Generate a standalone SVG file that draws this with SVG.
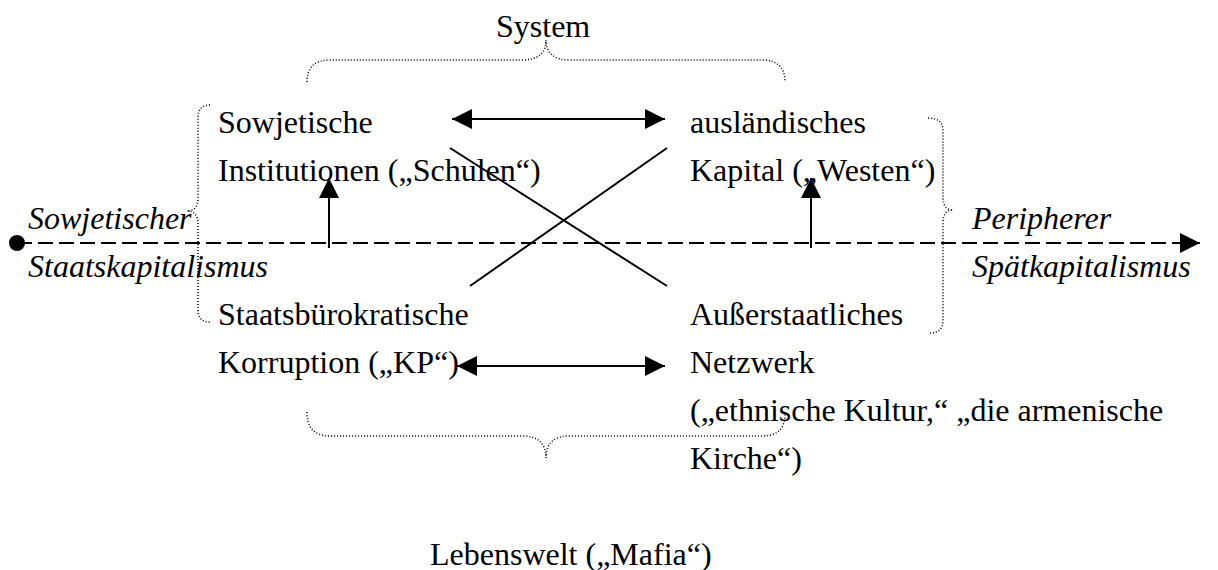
<svg xmlns="http://www.w3.org/2000/svg" width="1218" height="570" viewBox="0 0 1218 570">
<defs>
<marker id="ah" markerUnits="userSpaceOnUse" markerWidth="20" markerHeight="20" refX="20" refY="10" orient="auto-start-reverse" viewBox="0 0 20 20">
<path d="M0,0 L20,10 L0,20 Z" fill="#000"/>
</marker>
<style>
text{font-family:"Liberation Serif","Times New Roman",serif;font-size:32px;fill:#000}
.it{font-style:italic}
.conn{stroke:#000;stroke-width:2;fill:none}
.dot{stroke:#000;stroke-width:1.5;fill:none;stroke-dasharray:1 2}
.axis{stroke:#000;stroke-width:2;fill:none;stroke-dasharray:15 6}
</style>
</defs>
<rect width="1218" height="570" fill="#fff"/>
<g id="connectors">
<line class="axis" x1="17" y1="243" x2="1200" y2="243" marker-end="url(#ah)"/>
<line class="conn" x1="452" y1="119" x2="665" y2="119" marker-start="url(#ah)" marker-end="url(#ah)"/>
<line class="conn" x1="457" y1="366" x2="665" y2="366" marker-start="url(#ah)" marker-end="url(#ah)"/>
<line class="conn" x1="329" y1="248" x2="329" y2="178" marker-end="url(#ah)"/>
<line class="conn" x1="811" y1="248" x2="811" y2="178" marker-end="url(#ah)"/>
<line class="conn" x1="450" y1="148" x2="667" y2="286"/>
<line class="conn" x1="470" y1="286" x2="667" y2="148"/>
</g>
<circle id="start-dot" cx="17" cy="243" r="8" fill="#000"/>
<g id="braces">
<path class="dot" d="M307,82 Q307,60 330,60 L522,60 Q546,60 546,40 Q546,60 570,60 L762,60 Q785,60 785,82"/>
<path class="dot" d="M307,412 Q307,436 330,436 L522,436 Q546,436 546,458 Q546,436 570,436 L762,436 Q785,436 785,414"/>
<path class="dot" d="M210,105 Q198,105 198,118 L198,198 Q198,211 187,211 Q198,211 198,224 L198,310 Q198,322 210,322"/>
<path class="dot" d="M928,118 Q943,118 943,131 L943,197 Q943,210 953,210 Q943,210 943,223 L943,320 Q943,333 930,333"/>
</g>
<g id="system"><text x="496" y="37">System</text></g>
<g id="sowjetische-institutionen"><text x="218" y="133">Sowjetische</text><text x="218" y="181">Institutionen („Schulen“)</text></g>
<g id="auslaendisches-kapital"><text x="690" y="133">ausländisches</text><text x="690" y="181">Kapital („Westen“)</text></g>
<g id="sowjetischer-staatskapitalismus"><text class="it" x="28" y="229">Sowjetischer</text><text class="it" x="28" y="277">Staatskapitalismus</text></g>
<g id="peripherer-spaetkapitalismus"><text class="it" x="972" y="229">Peripherer</text><text class="it" x="972" y="277">Spätkapitalismus</text></g>
<g id="staatsbuerokratische-korruption"><text x="218" y="325">Staatsbürokratische</text><text x="218" y="373">Korruption („KP“)</text></g>
<g id="ausserstaatliches-netzwerk"><text x="690" y="325">Außerstaatliches</text><text x="690" y="373">Netzwerk</text><text x="690" y="421">(„ethnische Kultur,“ „die armenische</text><text x="690" y="469">Kirche“)</text></g>
<g id="lebenswelt"><text x="430" y="565">Lebenswelt („Mafia“)</text></g>
</svg>
